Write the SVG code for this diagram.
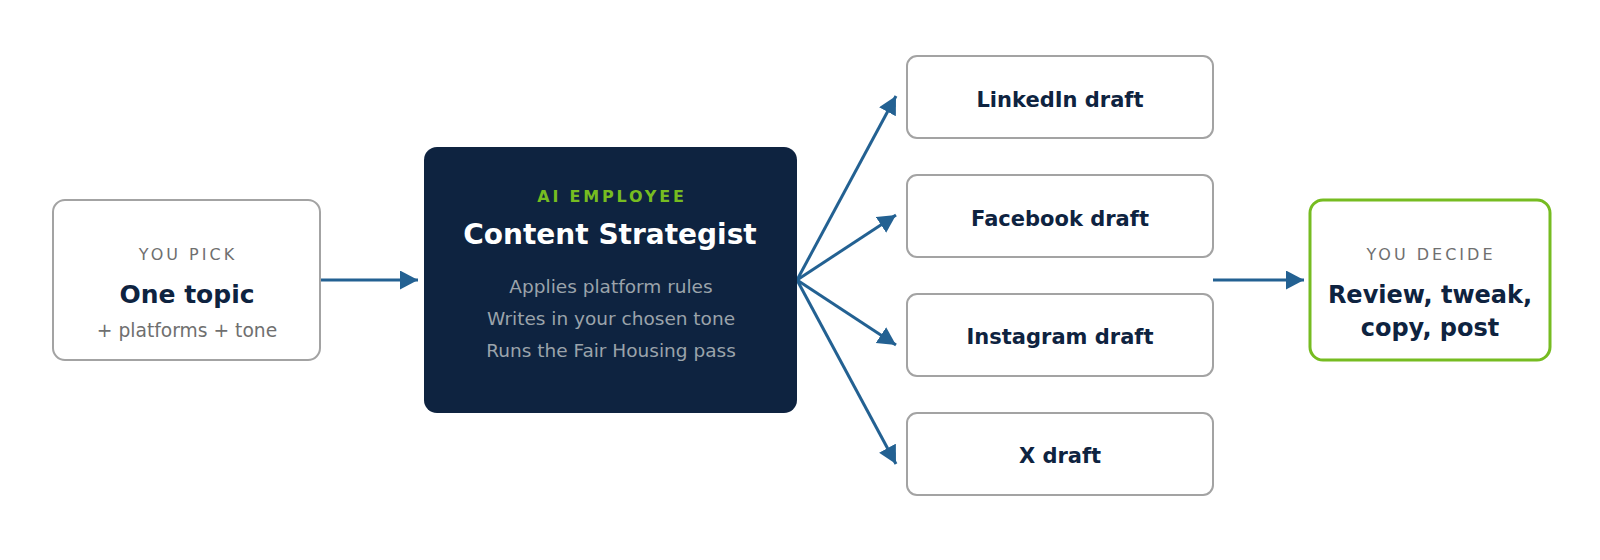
<svg xmlns="http://www.w3.org/2000/svg" width="1600" height="560" viewBox="0 0 1600 560">
<style>
text{font-family:"DejaVu Sans","Noto Sans",sans-serif;text-anchor:middle}
.box{fill:#ffffff;stroke:#a3a3a3;stroke-width:2}
.cap{font-size:16px;fill:#6f6f6f;letter-spacing:3px}
.big{font-size:25px;font-weight:bold;fill:#0e2340}
.sub{font-size:18.7px;fill:#6f6f6f}
.draft{font-size:21px;font-weight:bold;fill:#0e2340}
.desc{font-size:18.5px;fill:#9ba3ab}
.arr{stroke:#236192;stroke-width:3;fill:none;marker-end:url(#ah)}
</style>
<defs>
<marker id="ah" markerUnits="userSpaceOnUse" markerWidth="20" markerHeight="20" refX="18" refY="9.5" orient="auto">
<path d="M0,0 L18,9.5 L0,19 z" fill="#236192"/>
</marker>
</defs>
<rect width="1600" height="560" fill="#ffffff"/>
<g id="connectors">
<line class="arr" x1="320" y1="280" x2="418" y2="280"/>
<line class="arr" x1="797" y1="280" x2="896" y2="96"/>
<line class="arr" x1="797" y1="280" x2="896" y2="215"/>
<line class="arr" x1="797" y1="280" x2="896" y2="345"/>
<line class="arr" x1="797" y1="280" x2="896" y2="464"/>
<line class="arr" x1="1213" y1="280" x2="1304" y2="280"/>
</g>
<g id="pick">
<rect class="box" x="53" y="200" width="267" height="160" rx="12"/>
<text class="cap" x="188" y="260">YOU PICK</text>
<text class="big" x="187" y="303">One topic</text>
<text class="sub" x="187" y="337">+ platforms + tone</text>
</g>
<g id="strategist">
<rect x="424" y="147" width="373" height="266" rx="13" fill="#0e2340"/>
<text x="612" y="202" style="font-size:16px;font-weight:bold;fill:#76bc21;letter-spacing:2.8px">AI EMPLOYEE</text>
<text x="610" y="244" style="font-size:28px;font-weight:bold;fill:#ffffff">Content Strategist</text>
<text class="desc" x="611" y="293">Applies platform rules</text>
<text class="desc" x="611" y="325">Writes in your chosen tone</text>
<text class="desc" x="611" y="357">Runs the Fair Housing pass</text>
</g>
<g id="linkedin">
<rect class="box" x="907" y="56" width="306" height="82" rx="10"/>
<text class="draft" x="1060" y="107">LinkedIn draft</text>
</g>
<g id="facebook">
<rect class="box" x="907" y="175" width="306" height="82" rx="10"/>
<text class="draft" x="1060" y="226">Facebook draft</text>
</g>
<g id="instagram">
<rect class="box" x="907" y="294" width="306" height="82" rx="10"/>
<text class="draft" x="1060" y="344">Instagram draft</text>
</g>
<g id="x">
<rect class="box" x="907" y="413" width="306" height="82" rx="10"/>
<text class="draft" x="1060" y="463">X draft</text>
</g>
<g id="decide">
<rect x="1310" y="200" width="240" height="160" rx="13" fill="#ffffff" stroke="#76bc21" stroke-width="3"/>
<text class="cap" x="1431" y="260">YOU DECIDE</text>
<text x="1430" y="303" style="font-size:24px;font-weight:bold;fill:#0e2340">Review, tweak,</text>
<text x="1430" y="336" style="font-size:24px;font-weight:bold;fill:#0e2340">copy, post</text>
</g>
</svg>
